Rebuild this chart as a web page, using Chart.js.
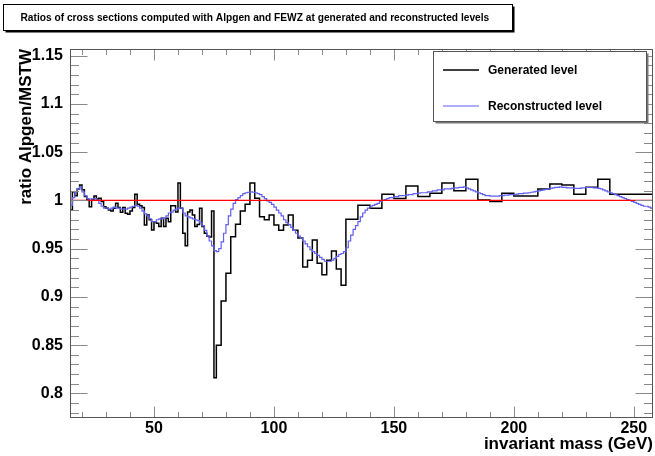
<!DOCTYPE html>
<html>
<head>
<meta charset="utf-8">
<script src="https://cdn.jsdelivr.net/npm/chart.js@4.4.1/dist/chart.umd.min.js"></script>
<style>
  html, body { margin: 0; padding: 0; background: #fff; }
  #wrap { width: 655px; height: 456px; }
</style>
</head>
<body>
<div id="wrap"><canvas id="ratioChart" width="655" height="456"></canvas></div>
<script>
const TITLE = 'Ratios of cross sections computed with Alpgen and FEWZ at generated and reconstructed levels';
const X_TITLE = 'invariant mass (GeV)';
const Y_TITLE = 'ratio Alpgen/MSTW';
const FONT = '"Liberation Sans", Arial, Helvetica, sans-serif';

const xRange = [15, 258];
const yRange = [0.7745, 1.157];
const xTickValues = [50, 100, 150, 200, 250];
const yTickValues = [0.8, 0.85, 0.9, 0.95, 1, 1.05, 1.1, 1.15];

// generated level: variable binning (1, 2, then 5 GeV)
const genEdges = [
    15, 16, 17, 18, 19, 20, 21, 22, 23, 24, 25, 26, 27, 28, 29, 30, 31, 32, 33, 34,
    35, 36, 37, 38, 39, 40, 41, 42, 43, 44, 45, 46, 47, 48, 49, 50, 51, 52, 53, 54,
    55, 56, 57, 58, 59, 60, 61, 62, 63, 64, 65, 66, 67, 68, 69, 70, 71, 72, 73, 74,
    75, 76, 78, 80, 82, 84, 86, 88, 90, 92, 94, 96, 98, 100, 102, 104, 106, 108, 110,
    112, 114, 116, 118, 120, 122, 124, 126, 128, 130, 135, 140, 145, 150, 155, 160,
    165, 170, 175, 180, 185, 190, 195, 200, 205, 210, 215, 220, 225, 230, 235, 240,
    245, 250, 255, 260
];
const genValues = [
    0.990, 1.009, 1.005, 1.012, 1.016, 1.011, 1.004, 1.0005, 0.9936, 1.0005,
    1.0047, 1.0016, 1.0023, 0.9988, 0.9936, 0.992, 0.990, 0.989, 0.992, 0.997,
    0.9926, 0.9877, 0.9926, 0.9867, 0.9857, 0.989, 0.9926, 1.0064, 0.996, 0.9946,
    0.9926, 0.9746, 0.985, 0.980, 0.9694, 0.978, 0.9764, 0.973, 0.9815, 0.973,
    0.9815, 0.978, 0.9946, 0.9946, 0.988, 1.018, 0.992, 0.966, 0.953, 0.988,
    0.990, 0.985, 0.973, 0.975, 0.992, 0.973, 0.966, 0.963, 0.962, 0.989,
    0.8163,
    0.850, 0.8958, 0.9245, 0.9625, 0.9753, 0.989, 0.996, 1.018, 1.0023, 0.983,
    0.980, 0.985, 0.9746, 0.969, 0.9746, 0.985, 0.969, 0.961, 0.931, 0.938,
    0.959, 0.935, 0.923, 0.938, 0.9476, 0.929, 0.912,
    0.9805, 0.995, 0.992, 1.0064, 1.002, 1.015, 1.004, 1.0075, 1.018, 1.010,
    1.022, 1.0005, 0.999, 1.0075, 1.0047, 1.0047, 1.012, 1.017, 1.016, 1.0064,
    1.0137, 1.022, 1.0064, 1.0064, 1.0064, 1.0064
];

// reconstructed level: 1 GeV bins from 15 GeV
const recoLowEdge = 15;
const recoBinWidth = 1;
const recoValues = [
    0.995, 1.003, 1.009, 1.012, 1.014, 1.009, 1.005, 1.002, 1.0015, 1.0016,
    1.002, 1.000, 0.997, 0.994, 0.992, 0.992, 0.991, 0.992, 0.993, 0.992,
    0.992, 0.991, 0.991, 0.991, 0.992, 0.993, 0.994, 0.995, 0.994, 0.992,
    0.989, 0.986, 0.984, 0.981, 0.978, 0.978, 0.980, 0.981, 0.981, 0.982,
    0.984, 0.987, 0.988, 0.990, 0.991, 0.992, 0.992, 0.987, 0.984, 0.983,
    0.982, 0.981, 0.980, 0.979, 0.977, 0.974, 0.969, 0.963, 0.958, 0.953,
    0.948, 0.947, 0.950, 0.957, 0.966, 0.975, 0.984, 0.991, 0.997, 1.001,
    1.003, 1.005, 1.007, 1.008, 1.0085, 1.009, 1.0085, 1.008, 1.007, 1.006,
    1.004, 1.002, 0.9995, 0.998, 0.996, 0.993, 0.990, 0.987, 0.984, 0.980,
    0.977, 0.975, 0.972, 0.969, 0.966, 0.963, 0.961, 0.958, 0.955, 0.952,
    0.949, 0.947, 0.945, 0.943, 0.941, 0.939, 0.937, 0.937, 0.937, 0.938,
    0.940, 0.942, 0.944, 0.945, 0.947, 0.951, 0.958, 0.964, 0.970, 0.974,
    0.978, 0.983, 0.987, 0.990, 0.992, 0.994, 0.995, 0.996, 0.997, 0.999,
    1.000, 1.001, 1.002, 1.003, 1.003, 1.004, 1.004, 1.005, 1.005, 1.005,
    1.0055, 1.006, 1.006, 1.007, 1.007, 1.0075, 1.008, 1.008, 1.008, 1.009,
    1.009, 1.010, 1.010, 1.011, 1.011, 1.011, 1.012, 1.012, 1.012, 1.0125,
    1.013, 1.013, 1.0135, 1.0135, 1.014, 1.013, 1.012, 1.011, 1.010, 1.009,
    1.008, 1.007, 1.006, 1.005, 1.005, 1.0045, 1.0045, 1.0045, 1.0045, 1.005,
    1.005, 1.0055, 1.0055, 1.006, 1.006, 1.006, 1.0065, 1.007, 1.007, 1.0075,
    1.0075, 1.008, 1.0085, 1.009, 1.0095, 1.010, 1.0105, 1.011, 1.0115, 1.012,
    1.0125, 1.013, 1.0135, 1.0135, 1.014, 1.0135, 1.0135, 1.013, 1.013, 1.013,
    1.0125, 1.0125, 1.0125, 1.013, 1.013, 1.0135, 1.0135, 1.0135, 1.013, 1.013,
    1.0125, 1.012, 1.011, 1.010, 1.009, 1.008, 1.007, 1.006, 1.005, 1.004,
    1.003, 1.002, 1.001, 1.000, 0.999, 0.998, 0.997, 0.996, 0.995, 0.994,
    0.994, 0.993, 0.992
];

const unityValue = 1;

// turn bin edges + contents into step points (value held until next edge)
function histPoints(edges, values) {
    const pts = values.map((v, i) => ({ x: edges[i], y: v }));
    pts.push({ x: edges[values.length], y: values[values.length - 1] });
    return pts;
}

const recoEdges = recoValues.map((v, i) => recoLowEdge + i * recoBinWidth);
recoEdges.push(recoLowEdge + recoValues.length * recoBinWidth);

const rootFrame = {
    id: 'rootFrame',
    afterDatasetsDraw(chart) {
        const { ctx, chartArea: a, scales: { x, y } } = chart;
        const L = Math.round(a.left) + 0.5, R = Math.round(a.right) - 0.5;
        const T = Math.round(a.top) + 0.5, B = Math.round(a.bottom) - 0.5;
        ctx.save();
        ctx.lineWidth = 1;
        ctx.strokeStyle = '#8a8a8a';
        ctx.beginPath();
        const xMinor = [];
        for (let v = 20; v <= 250; v += 10) xMinor.push(v);
        xMinor.forEach(v => {
            const len = xTickValues.includes(v) ? 11 : 5.5;
            const px = Math.round(x.getPixelForValue(v)) + 0.5;
            ctx.moveTo(px, B); ctx.lineTo(px, B - len);
            ctx.moveTo(px, T); ctx.lineTo(px, T + len);
        });
        for (let k = 78; k <= 115; k++) {
            const v = k / 100;
            const len = (k % 5 === 0) ? 17 : 8.5;
            const py = Math.round(y.getPixelForValue(v)) + 0.5;
            ctx.moveTo(L, py); ctx.lineTo(L + len, py);
            ctx.moveTo(R, py); ctx.lineTo(R - len, py);
        }
        ctx.stroke();
        ctx.strokeStyle = '#555';
        ctx.strokeRect(L, T, R - L, B - T);
        ctx.restore();
    },
    afterDraw(chart) {
        const ctx = chart.ctx;
        ctx.save();
        // title pave
        ctx.fillStyle = '#000';
        ctx.fillRect(5.5, 6.5, 509, 26);
        ctx.fillStyle = '#fff';
        ctx.fillRect(3.5, 4.5, 509, 26);
        ctx.strokeStyle = '#000';
        ctx.lineWidth = 1;
        ctx.strokeRect(3.5, 4.5, 509, 26);
        ctx.fillStyle = '#000';
        ctx.font = 'bold 10.2px ' + FONT;
        ctx.textBaseline = 'middle';
        ctx.textAlign = 'left';
        ctx.fillText(TITLE, 20.5, 18.5);

        // legend
        ctx.fillStyle = '#777';
        ctx.fillRect(435.5, 53.5, 213, 70);
        ctx.fillStyle = '#fff';
        ctx.fillRect(433.5, 51.5, 213, 70);
        ctx.strokeStyle = '#555';
        ctx.strokeRect(433.5, 51.5, 213, 70);
        const rows = [70, 106];
        let r = 0;
        ctx.font = 'bold 12px ' + FONT;
        chart.data.datasets.forEach(ds => {
            if (!ds.inLegend) return;
            const yy = rows[r++];
            ctx.strokeStyle = ds.borderColor;
            ctx.lineWidth = ds.borderWidth;
            ctx.beginPath();
            ctx.moveTo(443, yy); ctx.lineTo(479, yy);
            ctx.stroke();
            ctx.fillStyle = '#000';
            ctx.fillText(ds.label, 488, yy + 0.5);
        });
        ctx.restore();
    }
};

const tickFont = { family: FONT, size: 16, weight: 'bold' };

new Chart(document.getElementById('ratioChart'), {
    type: 'line',
    data: {
        datasets: [
            {
                label: 'Generated level',
                data: histPoints(genEdges, genValues),
                borderColor: '#000000',
                borderWidth: 1.5,
                stepped: true,
                pointRadius: 0,
                order: 2,
                inLegend: true
            },
            {
                label: 'Reconstructed level',
                data: histPoints(recoEdges, recoValues),
                borderColor: '#5f5ff2',
                borderWidth: 1.2,
                stepped: true,
                pointRadius: 0,
                order: 1,
                inLegend: true
            },
            {
                label: 'unity',
                data: [{ x: xRange[0], y: unityValue }, { x: xRange[1], y: unityValue }],
                borderColor: '#ff0000',
                borderWidth: 1.2,
                pointRadius: 0,
                order: 0
            }
        ]
    },
    options: {
        responsive: false,
        animation: false,
        events: [],
        layout: { padding: { top: 49, right: 2, left: 0, bottom: 0 } },
        plugins: {
            legend: { display: false },
            tooltip: { enabled: false }
        },
        scales: {
            x: {
                type: 'linear',
                min: xRange[0],
                max: xRange[1],
                afterBuildTicks(scale) { scale.ticks = xTickValues.map(v => ({ value: v })); },
                afterFit(scale) { scale.height = 38; },
                grid: { display: false, drawTicks: false },
                border: { display: false },
                ticks: { font: tickFont, color: '#000', padding: 1, maxRotation: 0, autoSkip: false },
                title: {
                    display: true, text: X_TITLE, align: 'end', color: '#000',
                    font: { family: FONT, size: 17, weight: 'bold' },
                    padding: { top: 0, bottom: 1 }
                }
            },
            y: {
                type: 'linear',
                min: yRange[0],
                max: yRange[1],
                afterBuildTicks(scale) { scale.ticks = yTickValues.map(v => ({ value: v })); },
                afterFit(scale) { scale.width = 70; },
                grid: { display: false, drawTicks: false },
                border: { display: false },
                ticks: {
                    font: tickFont, color: '#000', padding: 7, autoSkip: false,
                    callback: v => String(parseFloat(Number(v).toFixed(2)))
                },
                title: {
                    display: true, text: Y_TITLE, align: 'end', color: '#000',
                    font: { family: FONT, size: 17, weight: 'bold' },
                    padding: { top: 16, bottom: 0 }
                }
            }
        }
    },
    plugins: [rootFrame]
});
</script>
</body>
</html>
